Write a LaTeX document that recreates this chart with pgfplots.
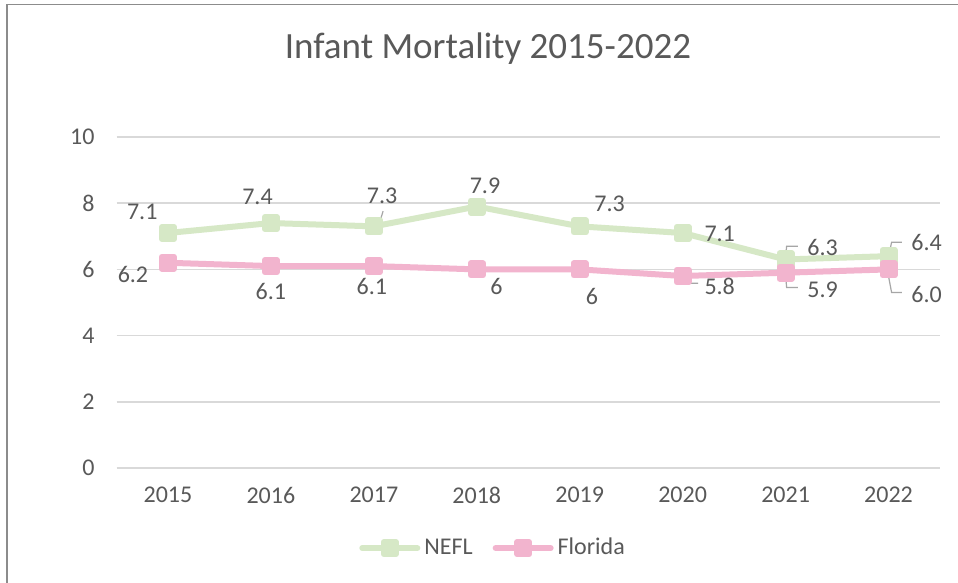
\documentclass[border=0pt]{standalone}
\usepackage{pgfplots}
\pgfplotsset{compat=1.18}
\usepackage{fontspec}
\setmainfont{Carlito}
\definecolor{nefl}{HTML}{D6E8C6}
\definecolor{fla}{HTML}{F2B4CE}
\definecolor{txt}{HTML}{595959}
\definecolor{gridc}{HTML}{D9D9D9}
\definecolor{lead}{HTML}{A6A6A6}
\definecolor{frame}{HTML}{8C8C8C}
\begin{document}
\begin{tikzpicture}
\useasboundingbox (0,0) rectangle (479pt,291.5pt);
\fill[white] (0,0) rectangle (479pt,291.5pt);
\draw[frame,line width=0.8pt] (3.6pt,0) -- (3.6pt,289.3pt) -- (479pt,289.3pt);
\node[txt,font=\fontsize{18.5}{22}\selectfont] at (244pt,267pt) {Infant Mortality 2015-2022};
\begin{axis}[
  at={(58.25pt,57.5pt)}, anchor=south west,
  scale only axis, width=411.75pt, height=165.5pt,
  xmin=-0.5, xmax=7.5, ymin=0, ymax=10,
  xtick={0,...,7},
  xticklabels={2015,2016,2017,2018,2019,2020,2021,2022},
  ytick={0,2,4,6,8,10},
  axis line style={draw=none},
  major tick length=0pt,
  ymajorgrids, grid style={gridc,line width=0.75pt},
  /pgf/number format/assume math mode=true,
  tick label style={txt,font=\fontsize{12}{14}\selectfont},
  yticklabel style={xshift=-7.5pt},
  xticklabel style={yshift=-6pt},
  clip=false,
  legend style={at={(0.4585,-0.242)}, anchor=center, draw=none, fill=none,
    font=\fontsize{12}{14}\selectfont, text=txt,
    /tikz/every even column/.append style={column sep=8pt}},
  legend columns=2,
  legend cell align=left,
  legend image code/.code={\draw[#1,mark repeat=2,mark phase=2] plot coordinates {(0pt,0pt) (13.75pt,0pt) (27.5pt,0pt)};},
]
\addplot[nefl, line width=3pt, line join=round, line cap=round, mark=square*, mark size=3pt, mark options={draw=none,fill=nefl}]
  coordinates {(0,7.1) (1,7.4) (2,7.3) (3,7.9) (4,7.3) (5,7.1) (6,6.3) (7,6.4)};
\addlegendentry{NEFL}
\addplot[fla, line width=3pt, line join=round, line cap=round, mark=square*, mark size=3pt, mark options={draw=none,fill=fla}]
  coordinates {(0,6.2) (1,6.1) (2,6.1) (3,6.0) (4,6.0) (5,5.8) (6,5.9) (7,6.0)};
\addlegendentry{Florida}
% leader lines
\draw[lead,line width=0.6pt] (axis cs:2.05,7.36) -- (axis cs:2.09,7.76);
\draw[lead,line width=0.6pt] (axis cs:6.0,6.36) -- (axis cs:6.01,6.70) -- (axis cs:6.12,6.70);
\draw[lead,line width=0.6pt] (axis cs:7.0,6.39) -- (axis cs:7.03,6.82) -- (axis cs:7.13,6.82);
\draw[lead,line width=0.6pt] (axis cs:5.0,5.79) -- (axis cs:5.02,5.58) -- (axis cs:5.15,5.58);
\draw[lead,line width=0.6pt] (axis cs:6.0,5.85) -- (axis cs:6.01,5.45) -- (axis cs:6.12,5.45);
\draw[lead,line width=0.6pt] (axis cs:7.0,5.79) -- (axis cs:7.03,5.30) -- (axis cs:7.13,5.30);
% data labels
\begin{scope}[every node/.style={txt,font=\fontsize{12}{14}\selectfont,inner sep=0pt}]
\node at (axis cs:-0.25,7.73) {7.1};
\node at (axis cs:0.87,8.18) {7.4};
\node at (axis cs:2.08,8.21) {7.3};
\node at (axis cs:3.08,8.52) {7.9};
\node at (axis cs:4.29,7.97) {7.3};
\node at (axis cs:5.36,7.06) {7.1};
\node at (axis cs:6.36,6.67) {6.3};
\node at (axis cs:7.37,6.82) {6.4};
\node at (axis cs:-0.34,5.85) {6.2};
\node at (axis cs:1.0,5.33) {6.1};
\node at (axis cs:1.98,5.48) {6.1};
\node at (axis cs:3.19,5.48) {6};
\node at (axis cs:4.12,5.18) {6};
\node at (axis cs:5.36,5.48) {5.8};
\node at (axis cs:6.36,5.39) {5.9};
\node at (axis cs:7.37,5.24) {6.0};
\end{scope}
\end{axis}
\end{tikzpicture}
\end{document}
